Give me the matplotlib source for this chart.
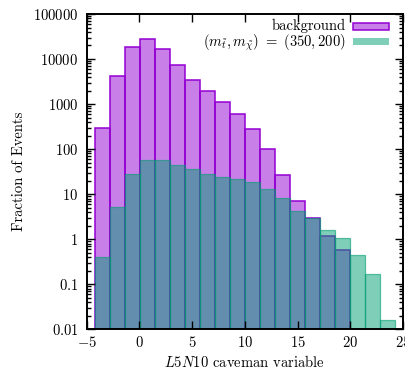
import numpy as np
import matplotlib
matplotlib.use("Agg")
import matplotlib.pyplot as plt
from matplotlib.patches import Rectangle
from matplotlib.ticker import LogLocator, NullFormatter, FixedLocator

plt.rcParams['mathtext.fontset'] = 'cm'
plt.rcParams['font.family'] = ['cmr10', 'DejaVu Serif']
plt.rcParams['axes.formatter.use_mathtext'] = True

# data
bin_edges = np.linspace(-4.2, 24.25, 21)
background = [294, 4270, 18200, 27400, 16400, 7250, 3430, 1920, 1094, 593,
              275, 102, 26.2, 7.2, 3.0, 1.18, 0.575]
signal = [0.396, 5.2, 28.5, 56.4, 57.3, 44.4, 36.2, 28.5, 23.7, 21.4,
          18.3, 12.8, 8.2, 4.16, 2.91, 1.57, 1.06, 0.446, 0.169, 0.0153]
xticks = [-5, 0, 5, 10, 15, 20, 25]
yticks = [0.01, 0.1, 1, 10, 100, 1000, 10000, 100000]
ytick_labels = ['0.01', '0.1', '1', '10', '100', '1000', '10000', '100000']
legend_labels = ['background', r'$(m_{\tilde{t}}, m_{\tilde{\chi}})\ =\ (350, 200)$']

purple = '#9400d3'
green = '#009e73'
purple_fill = (148/255, 0, 211/255, 0.5)
green_fill = (0, 158/255, 115/255, 0.5)

W, H = 406, 374
fig = plt.figure(figsize=(W/100, H/100), dpi=100)
L, R, T, B = 86.7, 403.0, 14.0, 329.3
ax = fig.add_axes([L/W, 1 - B/H, (R-L)/W, (B-T)/H])

w = bin_edges[1] - bin_edges[0]
ax.bar(bin_edges[:len(background)], background, width=w, align='edge',
       bottom=1e-3, facecolor=purple_fill, edgecolor=purple, linewidth=1.1)
ax.bar(bin_edges[:len(signal)], signal, width=w, align='edge', bottom=1e-3,
       facecolor=green_fill, edgecolor=(0, 158/255, 115/255, 0.6), linewidth=0.9)

ax.set_yscale('log')
ax.set_xlim(-5, 25)
ax.set_ylim(0.01, 100000)

ax.xaxis.set_major_locator(FixedLocator(xticks))
ax.set_xticklabels(['$%d$' % t for t in xticks])
ax.yaxis.set_major_locator(FixedLocator(yticks))
ax.set_yticklabels(['$%s$' % s for s in ytick_labels])
ax.yaxis.set_minor_locator(LogLocator(base=10, subs=np.arange(2, 10), numticks=20))
ax.yaxis.set_minor_formatter(NullFormatter())

ax.tick_params(which='both', direction='in', top=True, right=True,
               labelsize=10.5, width=1.0)
ax.tick_params(axis='x', which='major', length=6, pad=4)
ax.tick_params(axis='y', which='major', length=6, pad=6)
ax.tick_params(which='minor', length=3)
for s in ax.spines.values():
    s.set_linewidth(1.4)

ax.set_xlabel('$L5N10$ caveman variable', fontsize=10.5, labelpad=3)
ax.set_ylabel('Fraction of Events', fontsize=10.5, labelpad=5)

# legend (placed in figure pixel positions)
def fx(px):
    return px / W
def fy(py):
    return 1 - py / H

rows = [(25.5, 26.4, purple_fill, purple, 1.1), (42.5, 41.5, green_fill, 'none', 0)]
for (yt, yc, fc, ec, lw), lab in zip(rows, legend_labels):
    fig.text(fx(346), fy(yt), lab, ha='right', va='center', fontsize=10.5)
    fig.patches.append(Rectangle((fx(353), fy(yc + 3.8)), fx(389) - fx(353),
                                 fy(yc - 3.8) - fy(yc + 3.8),
                                 transform=fig.transFigure, facecolor=fc,
                                 edgecolor=ec, linewidth=lw))

fig.savefig('out.png', dpi=100)
